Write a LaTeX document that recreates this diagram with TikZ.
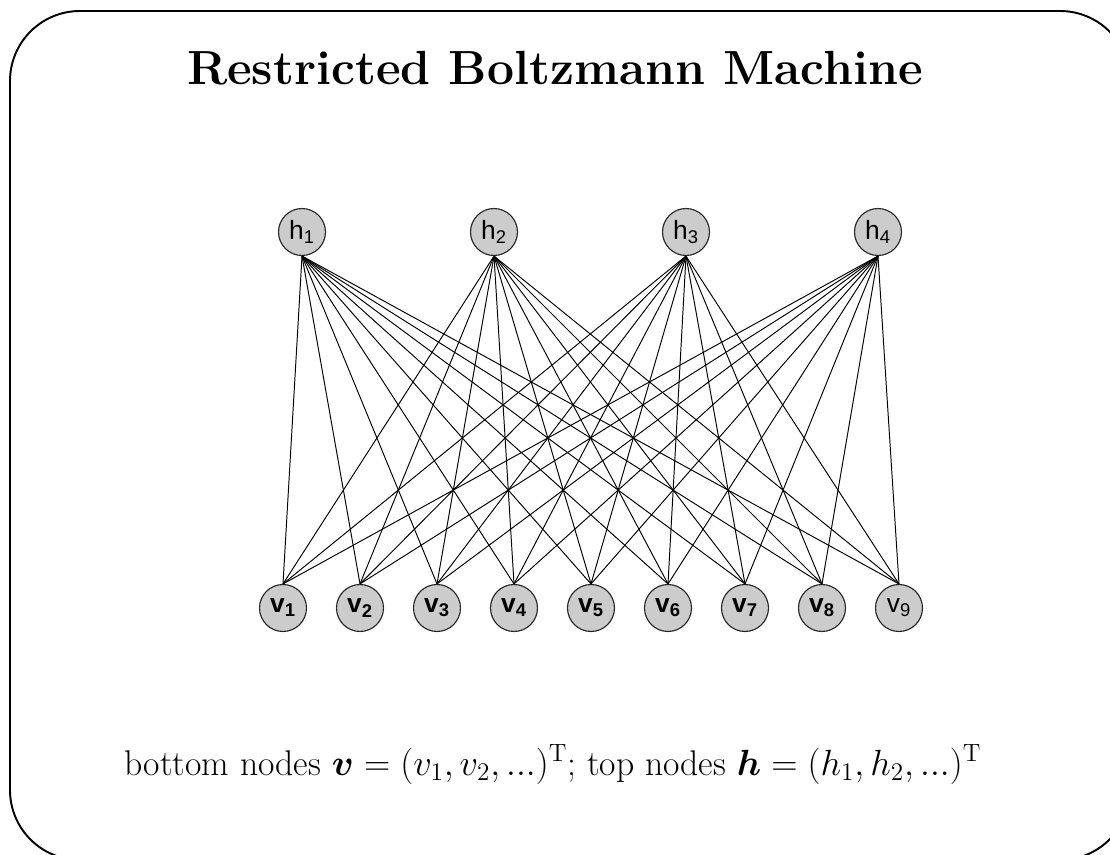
\documentclass[tikz,border=0pt]{standalone}
\usepackage{fontspec}
\usepackage{amsmath}
\usepackage{bm}
\newfontfamily\labfont{Liberation Sans}
\begin{document}
\begin{tikzpicture}[x=0.02cm,y=-0.02cm,
  unit/.style={circle,draw=black!85,line width=0.65pt,fill=gray!40,minimum size=0.94cm,inner sep=0pt,font=\labfont\fontsize{15}{16}\selectfont},
  vunit/.style={unit,font=\labfont\bfseries\fontsize{15}{16}\selectfont},
  link/.style={line width=0.55pt,black},
  frame/.style={line width=1.1pt,rounded corners=1.4cm}]
\useasboundingbox (0,0) rectangle (1110,855);
\begin{scope}
\clip (0,0) rectangle (1110,855);
\draw[frame] (10,11) rectangle (1130,860);
\end{scope}
\node[anchor=base,font=\bfseries\fontsize{27.3}{32}\selectfont] (title) at (555,85) {Restricted Boltzmann Machine};
\foreach \i/\x in {1/302,2/494,3/686,4/878}
  \node[unit] (h\i) at (\x,232) {h\textsubscript{\i}};
\foreach \j/\x in {1/283,2/360,3/437,4/514,5/591,6/668,7/745,8/822}
  \node[vunit] (v\j) at (\x,608) {v\textsubscript{\j}};
\node[unit] (v9) at (899,608) {v\textsubscript{9}};
\foreach \i in {1,...,4}
  \foreach \j in {1,...,9}
    \draw[link] (h\i.south) -- (v\j.north);
\node[anchor=base,font=\fontsize{20.3}{24}\selectfont] (caption) at (553,775)
  {bottom nodes $\bm{v}=(v_1,v_2,...)^{\mathrm{T}}$; top nodes $\bm{h}=(h_1,h_2,...)^{\mathrm{T}}$};
\end{tikzpicture}
\end{document}
